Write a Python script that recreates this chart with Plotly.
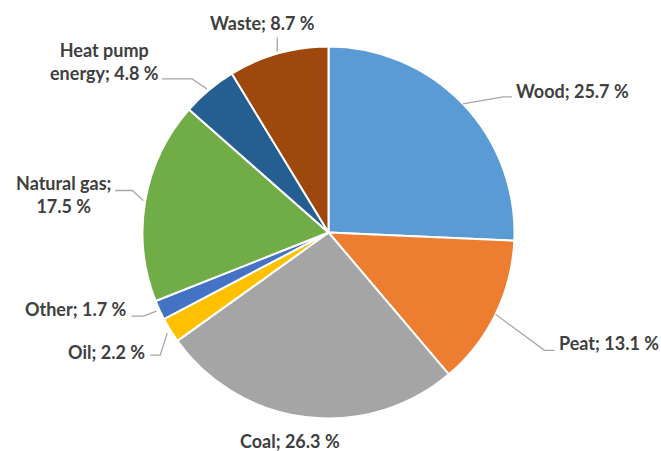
import math
import plotly.graph_objects as go

labels = ["Wood", "Peat", "Coal", "Oil", "Other", "Natural gas", "Heat pump energy", "Waste"]
values = [25.7, 13.1, 26.3, 2.2, 1.7, 17.5, 4.8, 8.7]
colors = ["#5B9BD5", "#ED7D31", "#A5A5A5", "#FFC000", "#4472C4", "#70AD47", "#255E91", "#9E480E"]
label_text = ["Wood; 25.7 %", "Peat; 13.1 %", "Coal; 26.3 %", "Oil; 2.2 %", "Other; 1.7 %",
              "Natural gas;<br>17.5 %", "Heat pump<br>energy; 4.8 %", "Waste; 8.7 %"]

W, H = 661, 451
CX, CY, R = 328.5, 232.5, 186.0

# leader-line offsets (px, relative to slice edge anchor) and text placement
leaders = [
    [(0, 0), (40, -7), (49, -7)],
    [(0, 0), (49, 36), (59, 36)],
    [],
    [(-3, 3), (-10, 25), (-20, 25)],
    [(-3, 1), (-16, 6), (-28, 6)],
    [(-2, 0), (-13, -10), (-30, -10)],
    [(-2, -1), (-17, -11), (-47, -11)],
    [(-1, -2), (-1, -16)],
]
text_off = [(51, -13, "left"), (61, 29, "left"), (-16, 24, "center"), (-23, 22, "right"),
            (-31, -1, "right"), (-31, -6, "right"), (-48, -28, "right"), (-16, -30, "center")]

def px(x, y):
    return x / W, 1 - y / H

fig = go.Figure(go.Pie(
    labels=labels, values=values, sort=False, direction="clockwise", rotation=0,
    marker=dict(colors=colors, line=dict(color="white", width=2)),
    textinfo="none", hoverinfo="label+percent", showlegend=False,
    domain=dict(x=[(CX - R) / W, (CX + R) / W], y=[1 - (CY + R) / H, 1 - (CY - R) / H]),
))

total = sum(values)
cum = 0.0
shapes, annots = [], []
for i, v in enumerate(values):
    mid = (cum + v / 2) / total * 2 * math.pi
    cum += v
    ax, ay = CX + R * math.sin(mid), CY - R * math.cos(mid)
    pts = leaders[i]
    if pts:
        path = "M " + " L ".join(f"{px(ax+dx, ay+dy)[0]:.5f},{px(ax+dx, ay+dy)[1]:.5f}" for dx, dy in pts)
        shapes.append(dict(type="path", path=path, xref="paper", yref="paper",
                           line=dict(color="#A6A6A6", width=1.3)))
    dx, dy, anc = text_off[i]
    tx, ty = px(ax + dx, ay + dy)
    annots.append(dict(x=tx, y=ty, xref="paper", yref="paper", text=label_text[i],
                       showarrow=False, xanchor=anc, yanchor="middle", align="center",
                       font=dict(family="Lato", size=18, color="#404040", weight="bold")))

fig.update_layout(width=W, height=H, margin=dict(l=0, r=0, t=0, b=0),
                  paper_bgcolor="white", plot_bgcolor="white",
                  shapes=shapes, annotations=annots)
fig.write_html("out.html")
